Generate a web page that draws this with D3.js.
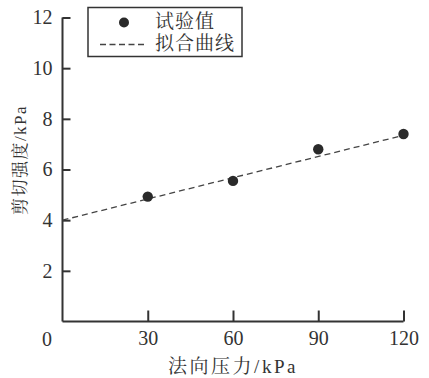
<!DOCTYPE html>
<html><head><meta charset="utf-8">
<script src="https://cdn.jsdelivr.net/npm/d3@7"></script>
<style>
html,body{margin:0;padding:0;background:#fff;}
text{fill:#333;}
</style></head>
<body>
<svg id="chart" width="429" height="378"></svg>
<script>
const xTicks = [30, 60, 90, 120];
const yTicks = [2, 4, 6, 8, 10, 12];
const pressure = [30, 60, 90, 120];
const strength = [4.93, 5.55, 6.8, 7.4];
const fitX = [0, 120];
const fitY = [4.0, 7.35];
const legendLabels = ["试验值", "拟合曲线"];
const xTitle = "法向压力/kPa";
const yTitle = "剪切强度/kPa";

const svg = d3.select("#chart");
const numFont = "'Liberation Serif','Times New Roman',serif";
const cjkFont = "'Liberation Serif','Noto Serif CJK SC','Noto Sans CJK SC',serif";
const col = "#333";

const x = d3.scaleLinear().domain([0, 120]).range([62.5, 403.5]);
const y = d3.scaleLinear().domain([0, 12]).range([321.5, 17.5]);

// axes
const xAxis = svg.append("g").attr("transform", `translate(0,${y(0)})`)
  .call(d3.axisBottom(x).tickValues(xTicks).tickSize(-11).tickFormat(d3.format("d")).tickPadding(17));
const yAxis = svg.append("g").attr("transform", `translate(${x(0)},0)`)
  .call(d3.axisLeft(y).tickValues(yTicks).tickSize(-8).tickFormat(d3.format("d")).tickPadding(10));
[xAxis, yAxis].forEach(g => {
  g.select(".domain").attr("stroke", col).attr("stroke-width", 2);
  g.selectAll(".tick line").attr("stroke", col).attr("stroke-width", 2);
  g.selectAll(".tick text").attr("fill", col).style("font-family", numFont).style("font-size", "20px");
});
xAxis.select(".domain").attr("d", `M${x(0)},0H${x(120)}`);
yAxis.select(".domain").attr("d", `M0,${y(12)}V${y(0)}`);
xAxis.selectAll(".tick text").attr("dy", "0.32em");

// origin label
svg.append("text").attr("x", 47).attr("y", 339).attr("text-anchor", "middle")
  .attr("dominant-baseline", "central")
  .style("font-family", numFont).style("font-size", "20px").text("0");

// fit line
const line = d3.line().x(d => x(d[0])).y(d => y(d[1]));
svg.append("path").datum(fitX.map((v, i) => [v, fitY[i]]))
  .attr("d", line).attr("fill", "none").attr("stroke", "#444")
  .attr("stroke-width", 1.3).attr("stroke-dasharray", "6,4");

// points
svg.selectAll("circle.pt").data(pressure).enter().append("circle")
  .attr("class", "pt").attr("cx", d => x(d)).attr("cy", (d, i) => y(strength[i]))
  .attr("r", 5.2).attr("fill", "#2a2a2a");

// titles
svg.append("text").attr("x", 233).attr("y", 366).attr("text-anchor", "middle")
  .attr("dominant-baseline", "central")
  .style("font-family", cjkFont).style("font-size", "19px").style("letter-spacing", "2.5px").text(xTitle);
svg.append("text").attr("transform", "translate(20,160) rotate(-90)")
  .attr("text-anchor", "middle").attr("dominant-baseline", "central")
  .style("font-family", cjkFont).style("font-size", "17px").style("letter-spacing", "1.5px").text(yTitle);

// legend
const lg = svg.append("g");
lg.append("rect").attr("x", 88).attr("y", 7.5).attr("width", 154).attr("height", 49)
  .attr("fill", "#fff").attr("stroke", col).attr("stroke-width", 1.5);
lg.append("circle").attr("cx", 124).attr("cy", 22.5).attr("r", 5).attr("fill", "#2a2a2a");
lg.append("line").attr("x1", 100).attr("x2", 147).attr("y1", 44.5).attr("y2", 44.5)
  .attr("stroke", "#444").attr("stroke-width", 1.3).attr("stroke-dasharray", "6,3.5");
lg.selectAll("text.lt").data(legendLabels).enter().append("text").attr("class", "lt")
  .attr("x", 155).attr("y", (d, i) => 21 + i * 22).attr("dominant-baseline", "central")
  .style("font-family", cjkFont).style("font-size", "19px").style("letter-spacing", "1px").text(d => d);
</script>
</body></html>
